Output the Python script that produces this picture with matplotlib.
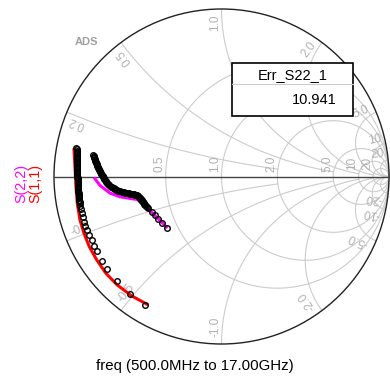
import numpy as np
import matplotlib.pyplot as plt
from matplotlib.patches import Rectangle, Circle

s11_meas_re = [-0.866, -0.8655, -0.865, -0.8645, -0.864, -0.864, -0.8635, -0.8635, -0.863, -0.863,
               -0.8625, -0.8625, -0.862, -0.862, -0.8615, -0.8615, -0.861, -0.861, -0.8605, -0.8605,
               -0.860, -0.860, -0.860, -0.860, -0.8595, -0.859, -0.8585, -0.858, -0.858, -0.8575,
               -0.857, -0.8565, -0.856, -0.8555, -0.855, -0.854, -0.8535, -0.853, -0.852, -0.8515,
               -0.851, -0.850, -0.849, -0.8475,
               -0.846, -0.843, -0.839, -0.835, -0.828, -0.821, -0.812, -0.801, -0.789, -0.775,
               -0.759, -0.743, -0.715, -0.682, -0.626, -0.546, -0.455]
s11_meas_im = [0.170, 0.1625, 0.155, 0.1475, 0.140, 0.1325, 0.125, 0.1175, 0.110, 0.1025,
               0.095, 0.0875, 0.080, 0.0725, 0.065, 0.0575, 0.050, 0.0425, 0.035, 0.0275,
               0.020, 0.0125, 0.005, -0.0025, -0.010, -0.0175, -0.025, -0.0325, -0.040, -0.0475,
               -0.055, -0.0625, -0.070, -0.0775, -0.085, -0.0925, -0.100, -0.1075, -0.115, -0.1225,
               -0.130, -0.1375, -0.145, -0.1525,
               -0.158, -0.176, -0.197, -0.218, -0.242, -0.269, -0.296, -0.322, -0.349, -0.379,
               -0.412, -0.445, -0.507, -0.554, -0.626, -0.701, -0.770]

s11_model_re = [-0.881, -0.875, -0.869, -0.861, -0.845, -0.821, -0.789, -0.745, -0.690, -0.622, -0.536, -0.437]
s11_model_im = [0.168, 0.059, -0.061, -0.160, -0.260, -0.339, -0.419, -0.498, -0.578, -0.648, -0.713, -0.767]

s22_meas_re = [-0.765, -0.763, -0.761, -0.759, -0.757, -0.755, -0.753, -0.751, -0.748, -0.746,
               -0.743, -0.741, -0.738, -0.735, -0.733, -0.730, -0.727, -0.724, -0.721, -0.717,
               -0.714, -0.710, -0.707, -0.703, -0.700, -0.696, -0.692, -0.688, -0.684, -0.679,
               -0.675, -0.670, -0.665, -0.660, -0.655, -0.649, -0.644, -0.638, -0.633, -0.627,
               -0.621, -0.615, -0.609, -0.603, -0.597, -0.591, -0.585, -0.579, -0.573, -0.567,
               -0.561, -0.555, -0.549, -0.543, -0.537, -0.531, -0.525, -0.519, -0.514, -0.509,
               -0.504, -0.500, -0.497, -0.493, -0.489, -0.486, -0.482, -0.479, -0.476, -0.473,
               -0.470, -0.468, -0.465, -0.462, -0.460, -0.457, -0.454, -0.450, -0.447,
               -0.437, -0.417, -0.397, -0.377, -0.357, -0.325]
s22_meas_im = [0.128, 0.122, 0.116, 0.110, 0.104, 0.099, 0.093, 0.087, 0.081, 0.075,
               0.069, 0.063, 0.057, 0.051, 0.045, 0.039, 0.033, 0.027, 0.021, 0.015,
               0.009, 0.003, -0.003, -0.009, -0.015, -0.021, -0.026, -0.032, -0.037, -0.042,
               -0.047, -0.051, -0.056, -0.060, -0.063, -0.067, -0.070, -0.073, -0.076, -0.079,
               -0.082, -0.084, -0.087, -0.089, -0.091, -0.093, -0.094, -0.096, -0.097, -0.098,
               -0.100, -0.101, -0.102, -0.103, -0.104, -0.105, -0.107, -0.108, -0.110, -0.111,
               -0.113, -0.116, -0.119, -0.122, -0.126, -0.130, -0.134, -0.138, -0.142, -0.146,
               -0.150, -0.154, -0.158, -0.162, -0.166, -0.170, -0.173, -0.177, -0.180,
               -0.190, -0.210, -0.230, -0.256, -0.279, -0.310]

s22_model_re = [-0.761, -0.725, -0.666, -0.606, -0.546, -0.504, -0.475, -0.451, -0.427, -0.407, -0.387, -0.357, -0.324]
s22_model_im = [-0.006, -0.054, -0.099, -0.121, -0.131, -0.137, -0.158, -0.186, -0.206, -0.221, -0.245, -0.272, -0.309]

r_values = [0.5, 1.0, 2.0, 5.0, 10.0, 20.0]
r_labels = ['0.5', '1.0', '2.0', '5.0', '10', '20']
x_values = [0.2, 0.5, 1.0, 2.0, 5.0, 10.0, 20.0]
x_labels = ['0.2', '0.5', '1.0', '2.0', '5.0', '10', '20']
x_rmax = [2.0, 5.0, 10.0, 20.0, np.inf, np.inf, np.inf]   # where each reactance arc stops

marker_name = 'Err_S22_1'
marker_value = '10.941'
sweep_text = 'freq (500.0MHz to 17.00GHz)'

grid_col = '#cccccc'
lab_col = '#b0b0b0'
font = 'Liberation Sans'


def gamma(z):
    return (z - 1) / (z + 1)


fig = plt.figure(figsize=(3.90, 3.76), dpi=100)
ax = fig.add_axes([0, 0, 1, 1])
R = 167.5  # pixels per unit of gamma
ax.set_xlim(-221.5 / R, (390 - 221.5) / R)
ax.set_ylim(-(376 - 176.5) / R, 176.5 / R)
ax.set_aspect('equal')
ax.axis('off')

# resistance circles
for r in r_values:
    t = np.linspace(-np.pi / 2 + 1e-4, np.pi / 2 - 1e-4, 600)
    g = gamma(r + 1j * np.tan(t))
    ax.plot(g.real, g.imag, color=grid_col, lw=0.8, zorder=1)

# reactance arcs
for xv, rmax in zip(x_values, x_rmax):
    t = np.linspace(0, min(np.arctan(rmax), np.pi / 2 - 1e-4), 600)
    for s in (1, -1):
        g = gamma(np.tan(t) + 1j * s * xv)
        ax.plot(g.real, g.imag, color=grid_col, lw=0.8, zorder=1)

# outer circle and real axis
ax.add_patch(Circle((0, 0), 1, fill=False, ec='#222222', lw=1.0, zorder=2))
ax.plot([-1, 1], [0, 0], color='#444444', lw=1.0, zorder=2)

# labels on real axis
for r, lab in zip(r_values, r_labels):
    g = (r - 1) / (r + 1)
    ax.text(g - 6 / R, 13 / R, lab, rotation=90, ha='center', va='center',
            color=lab_col, fontsize=8.5, family=font, zorder=3)

# labels at the boundary
for xv, lab in zip(x_values, x_labels):
    for s in (1, -1):
        g = gamma(1j * s * xv)
        th = np.angle(g)
        text = lab if s > 0 else '-' + lab
        rad = 1 - (3.5 * len(text) + 3) / R
        tx, ty = -np.sin(th) * s, np.cos(th) * s
        px = g.real * rad + tx * 6 / R
        py = g.imag * rad + ty * 6 / R
        rot = np.degrees(th) if s > 0 else np.degrees(th) + 180
        ax.text(px, py, text, rotation=rot, ha='center', va='center',
                rotation_mode='anchor', color=lab_col, fontsize=8.5, family=font, zorder=3)

# traces
ax.plot(s11_model_re, s11_model_im, color='red', lw=2.2, zorder=4, solid_capstyle='butt')
ax.plot(s22_model_re, s22_model_im, color='magenta', lw=2.2, zorder=4, solid_capstyle='butt')
ax.plot(s11_meas_re, s11_meas_im, 'o', mfc='none', mec='black', ms=4.0, mew=1.0, zorder=5)
ax.plot(s22_meas_re, s22_meas_im, 'o', mfc='none', mec='black', ms=4.0, mew=1.0, zorder=5)

# marker readout box
bx0, bx1 = (232 - 221.5) / R, (353 - 221.5) / R
by0, by1 = (176.5 - 116) / R, (176.5 - 63) / R
ax.add_patch(Rectangle((bx0, by0), bx1 - bx0, by1 - by0, fc='white', ec='black', lw=1.2, zorder=6))
ydiv = (176.5 - 84) / R
ax.plot([bx0, bx1], [ydiv, ydiv], color='#cccccc', lw=0.8, zorder=7)
ax.text((bx0 + bx1) / 2, (176.5 - 75) / R, marker_name, ha='center', va='center',
        fontsize=10.5, family=font, zorder=7)
ax.text((337 - 221.5) / R, (176.5 - 100) / R, marker_value, ha='right', va='center',
        fontsize=10.5, family=font, zorder=7)

ax.text((86 - 221.5) / R, (176.5 - 42) / R, 'ADS', ha='center', va='center',
        fontsize=8, fontweight='bold', color='#a0a0a0', family=font)

fig.text(195 / 390, 1 - 366 / 376, sweep_text, ha='center', va='center',
         fontsize=10.8, family=font)
fig.text(21 / 390, 1 - 183 / 376, 'S(2,2)', rotation=90, ha='center', va='center',
         fontsize=10.3, color='magenta', family=font)
fig.text(35 / 390, 1 - 183 / 376, 'S(1,1)', rotation=90, ha='center', va='center',
         fontsize=10.3, color='red', family=font)

fig.savefig('out.png', dpi=100)
